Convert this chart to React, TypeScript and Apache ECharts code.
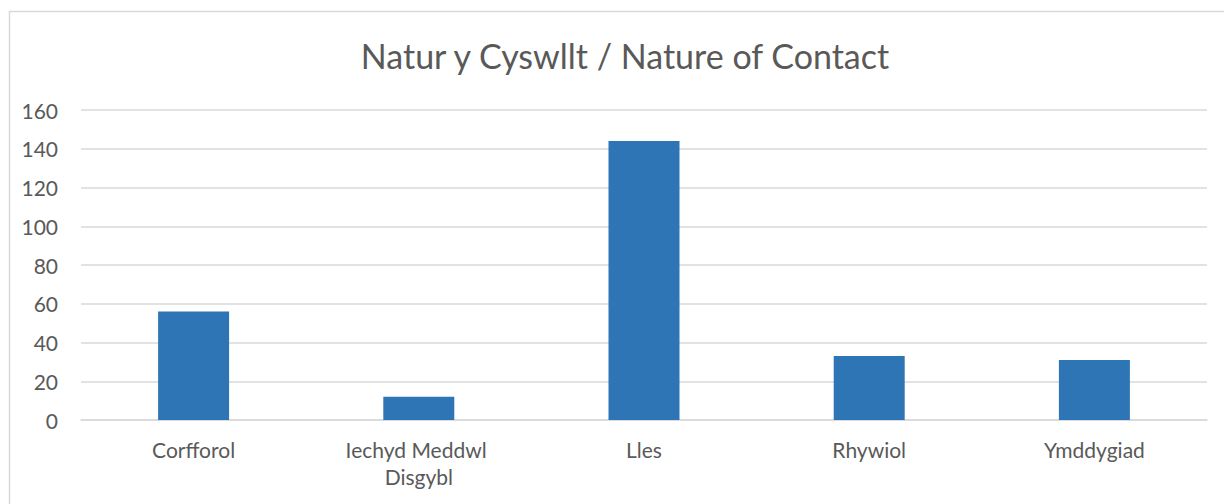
import React, { useEffect, useRef } from "react";
import * as echarts from "echarts";

const categories = ["Corfforol", "Iechyd Meddwl Disgybl", "Lles", "Rhywiol", "Ymddygiad"];
const values = [56, 12, 144, 33, 31];
const titleText = "Natur y Cyswllt / Nature of Contact";

export default function App() {
  const ref = useRef<HTMLDivElement>(null);
  useEffect(() => {
    const chart = echarts.init(ref.current!, null, { renderer: "svg" });
    chart.setOption({
      animation: false,
      backgroundColor: "#ffffff",
      title: {
        text: titleText,
        left: 620,
        top: 33,
        textAlign: "center",
        textStyle: { fontFamily: "Lato", fontSize: 34, fontWeight: "normal", color: "#595959" },
      },
      graphic: [
        {
          type: "rect",
          shape: { x: 9.5, y: 11.5, width: 1400, height: 600 },
          style: { fill: "none", stroke: "#d9d9d9", lineWidth: 1.5 },
          silent: true,
        },
      ],
      grid: { left: 81, right: 17, top: 110, bottom: 84, containLabel: false },
      xAxis: {
        type: "category",
        data: categories,
        axisLine: { show: true, lineStyle: { color: "#d9d9d9", width: 1.5 } },
        axisTick: { show: false },
        axisLabel: {
          fontFamily: "Lato",
          fontSize: 21,
          color: "#595959",
          margin: 16,
          lineHeight: 27,
          width: 190,
          overflow: "break",
          interval: 0,
        },
      },
      yAxis: {
        type: "value",
        min: 0,
        max: 160,
        interval: 20,
        axisLine: { show: false },
        axisTick: { show: false },
        splitLine: { lineStyle: { color: "#d9d9d9", width: 1.5 } },
        axisLabel: { fontFamily: "Lato", fontSize: 21, color: "#595959", margin: 23 },
      },
      series: [
        {
          type: "bar",
          data: values,
          barWidth: 71,
          itemStyle: { color: "#2e75b6" },
        },
      ],
    });
    return () => chart.dispose();
  }, []);
  return <div ref={ref} style={{ position: "fixed", left: 0, top: 0, width: 1224, height: 504 }} />;
}
